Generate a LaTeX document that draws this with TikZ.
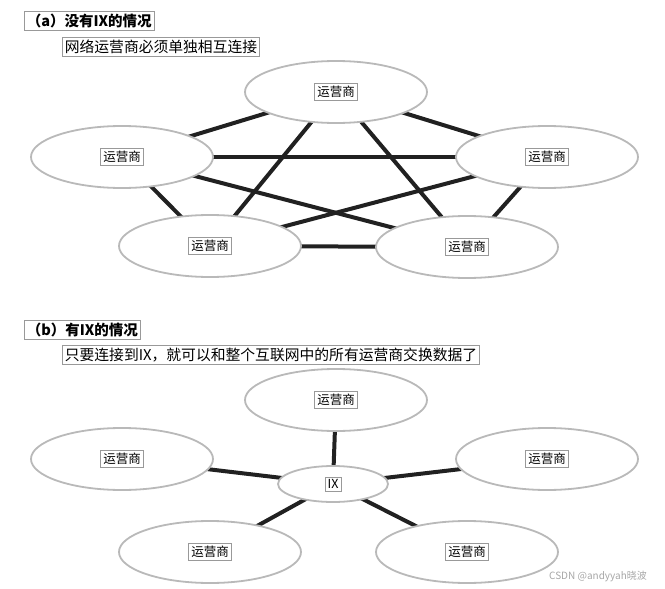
\documentclass[tikz,border=0pt]{standalone}
\usepackage{fontspec}
\setmainfont{Noto Sans CJK SC}
\usetikzlibrary{shapes.geometric}
\begin{document}
\begin{tikzpicture}[x=1pt,y=-1pt,
  op/.style={ellipse,draw=gray!55,line width=1.8pt,fill=white,minimum width=182pt,minimum height=62pt,inner sep=0pt},
  lab/.style={draw=gray!80,line width=0.6pt,inner sep=2.5pt,font=\fontsize{12.5}{14}\selectfont},
  ttl/.style={draw=gray!80,line width=0.6pt,inner sep=2.5pt,font=\fontsize{14.8}{16}\selectfont,anchor=west},
  link/.style={line width=4pt,color=black!87}]
\useasboundingbox (0,0) rectangle (665,589);
% (a)
\node[ttl,font=\bfseries\fontsize{14.5}{16}\selectfont] (ta) at (24,21) {（a）没有IX的情况};
\node[ttl] (sa) at (62,47) {网络运营商必须单独相互连接};
\coordinate (a1) at (336,92);
\coordinate (a2) at (122,157);
\coordinate (a3) at (547,157);
\coordinate (a4) at (210,246);
\coordinate (a5) at (467,247);
\foreach \p/\q in {a1/a2,a1/a3,a1/a4,a1/a5,a2/a3,a2/a4,a2/a5,a3/a4,a3/a5,a4/a5}
  \draw[link] (\p) -- (\q);
\foreach \n in {a1,a2,a3,a4,a5}{
  \node[op] (e\n) at (\n) {};
  \node[lab] (l\n) at (\n) {运营商};}
% (b)
\node[ttl,font=\bfseries\fontsize{14.5}{16}\selectfont] (tb) at (24,330) {（b）有IX的情况};
\node[ttl] (sb) at (62,355) {只要连接到IX，就可以和整个互联网中的所有运营商交换数据了};
\coordinate (ix) at (333,484);
\coordinate (b1) at (336,400);
\coordinate (b2) at (122,459);
\coordinate (b3) at (547,459);
\coordinate (b4) at (210,552);
\coordinate (b5) at (467,552);
\foreach \q in {b1,b2,b3,b4,b5}
  \draw[link] (ix) -- (\q);
\foreach \n in {b1,b2,b3,b4,b5}{
  \node[op] (e\n) at (\n) {};
  \node[lab] (l\n) at (\n) {运营商};}
\node[op,minimum width=110pt,minimum height=36pt] (eix) at (ix) {};
\node[lab] (lix) at (ix) {IX};
\node[text=gray!70,font=\fontsize{10}{12}\selectfont] (wm) at (598,576) {CSDN @andyyah晓波};
\end{tikzpicture}
\end{document}
